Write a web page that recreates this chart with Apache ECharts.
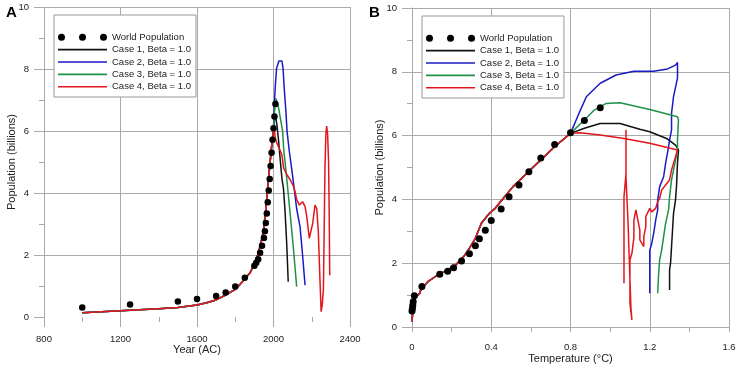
<!DOCTYPE html>
<html>
<head>
<meta charset="utf-8">
<script src="https://cdn.jsdelivr.net/npm/echarts@6/dist/echarts.min.js"></script>
<style>
  html, body { margin: 0; padding: 0; background: #fff; }
  #chart { width: 737px; height: 367px; }
</style>
</head>
<body>
<div id="chart"></div>
<script>
// world population (billions), shared by both panels
const popYears = [1000, 1250, 1500, 1600, 1700, 1750, 1800, 1850, 1900, 1910, 1920, 1930, 1940,
    1950, 1955, 1960, 1965, 1970, 1975, 1980, 1985, 1990, 1995, 2000, 2005, 2010];
const popTemps = [-0.004, -0.002, 0, 0.002, 0.004, 0.006, 0.012, 0.05, 0.14, 0.18, 0.21, 0.25, 0.29,
    0.32, 0.34, 0.37, 0.40, 0.45, 0.49, 0.54, 0.59, 0.65, 0.72, 0.80, 0.87, 0.95];
const worldPop = [0.31, 0.4, 0.5, 0.58, 0.68, 0.79, 0.98, 1.27, 1.65, 1.75, 1.86, 2.07, 2.3,
    2.55, 2.77, 3.03, 3.34, 3.7, 4.08, 4.45, 4.87, 5.3, 5.72, 6.09, 6.47, 6.87];

const caseNames = ['Case 1, Beta = 1.0', 'Case 2, Beta = 1.0', 'Case 3, Beta = 1.0', 'Case 4, Beta = 1.0'];
const caseColors = ['#111111', '#1b1bc4', '#1f9148', '#e3161c'];

// panel A: population vs year
const histYear = [[1000, 0.14], [1100, 0.17], [1200, 0.2], [1300, 0.23], [1400, 0.27], [1500, 0.31],
    [1600, 0.39], [1650, 0.46], [1700, 0.55], [1750, 0.71], [1800, 0.89], [1850, 1.22], [1880, 1.45],
    [1900, 1.73], [1920, 2.05], [1940, 2.54], [1950, 2.91], [1960, 3.5], [1970, 4.2], [1980, 4.85],
    [1990, 5.49], [2000, 6.09]];
const tailYear1 = [[2005, 6.35], [2010, 6.52], [2018, 6.19], [2027, 5.66], [2036, 5.01], [2044, 4.47],
    [2052, 4.15], [2060, 3.45], [2069, 2.38], [2077, 1.14]];
const tailYear2 = [[2004, 6.84], [2010, 7.5], [2016, 8.02], [2028, 8.26], [2044, 8.26], [2050, 8.02],
    [2056, 7.38], [2065, 6.62], [2071, 5.98], [2083, 5.33], [2097, 4.69], [2109, 4.1], [2121, 3.5],
    [2139, 2.9], [2152, 2.0], [2165, 1.03]];
const tailYear3 = [[2005, 6.6], [2013, 7.05], [2027, 6.73], [2039, 6.3], [2048, 5.98], [2053, 5.44],
    [2062, 4.9], [2071, 4.36], [2086, 3.4], [2103, 2.3], [2121, 0.98]];
const tailYear4 = [[2005, 6.0], [2010, 5.76], [2018, 5.6], [2030, 5.44], [2044, 5.23], [2053, 4.8],
    [2071, 4.58], [2088, 4.42], [2106, 4.2], [2114, 4.0], [2121, 3.8], [2135, 3.61], [2152, 3.72],
    [2165, 3.56], [2174, 3.24], [2187, 2.54], [2196, 2.6], [2205, 3.02], [2217, 3.61], [2226, 3.5],
    [2234, 2.8], [2243, 1.19], [2249, 0.17], [2255, 0.4], [2261, 0.9], [2265, 2.8], [2269, 4.8],
    [2274, 5.9], [2278, 6.16], [2283, 5.9], [2288, 5.0], [2291, 3.5], [2294, 1.35]];

// panel B: population vs temperature
const histTemp = [[0, 0.17], [0.005, 0.6], [0.012, 0.85], [0.02, 0.95], [0.04, 1.06], [0.044, 1.16],
    [0.057, 1.26], [0.08, 1.42], [0.13, 1.63], [0.18, 1.79], [0.22, 1.94], [0.26, 2.2], [0.29, 2.47],
    [0.32, 2.78], [0.35, 3.25], [0.39, 3.56], [0.42, 3.72], [0.46, 4.03], [0.51, 4.4], [0.58, 4.82],
    [0.65, 5.24], [0.72, 5.65], [0.8, 6.07]];
const tailTemp1 = [[0.87, 6.23], [0.95, 6.38], [1.05, 6.38], [1.15, 6.2], [1.2, 6.12], [1.285, 5.91],
    [1.33, 5.7], [1.345, 5.55], [1.34, 5.13], [1.335, 4.4], [1.33, 3.98], [1.32, 3.56], [1.315, 3.04],
    [1.31, 2.52], [1.305, 2.0], [1.30, 1.79], [1.30, 1.16]];
const tailTemp2 = [[0.85, 6.8], [0.88, 7.22], [0.95, 7.64], [1.03, 7.9], [1.12, 8.02], [1.22, 8.02],
    [1.29, 8.09], [1.33, 8.21], [1.34, 8.29], [1.34, 7.8], [1.32, 7.22], [1.31, 6.7], [1.31, 6.18],
    [1.30, 5.86], [1.295, 5.65], [1.28, 5.13], [1.27, 4.71], [1.25, 4.4], [1.24, 3.98], [1.24, 3.67],
    [1.23, 3.35], [1.22, 2.94], [1.21, 2.62], [1.2, 2.41], [1.2, 1.06]];
const tailTemp3 = [[0.87, 6.49], [0.92, 6.8], [0.98, 7.01], [1.05, 7.03], [1.2, 6.82], [1.34, 6.59],
    [1.345, 6.5], [1.34, 5.86], [1.34, 5.55], [1.33, 5.23], [1.31, 4.61], [1.30, 4.08], [1.295, 3.67],
    [1.28, 3.25], [1.27, 2.83], [1.26, 2.41], [1.25, 2.1], [1.245, 1.68], [1.24, 1.06]];
const tailTemp4 = [[0.85, 6.09], [0.95, 6.02], [1.07, 5.91], [1.2, 5.76], [1.34, 5.55], [1.33, 5.34],
    [1.31, 4.92], [1.30, 4.61], [1.28, 4.45], [1.26, 4.29], [1.25, 4.03], [1.24, 3.93], [1.23, 3.72],
    [1.21, 3.61], [1.20, 3.6], [1.20, 3.72], [1.18, 3.46], [1.18, 3.14], [1.17, 2.83], [1.17, 2.52],
    [1.165, 2.52], [1.15, 2.73], [1.15, 3.04], [1.14, 3.35], [1.13, 3.67], [1.12, 3.35], [1.12, 2.8],
    [1.11, 2.31], [1.10, 2.1], [1.10, 0.74], [1.11, 0.22], [1.105, 0.6], [1.09, 3.35], [1.08, 4.71],
    [1.08, 6.18], [1.08, 4.8], [1.07, 4.08], [1.07, 1.37]];

const FONT = '"Liberation Sans", Arial, sans-serif';
const GRID_COLOR = '#a9a9a9';
const dotsIcon = 'path://M0,3.5a3.5,3.5 0 1,0 7,0a3.5,3.5 0 1,0 -7,0Z' +
    'M21,3.5a3.5,3.5 0 1,0 7,0a3.5,3.5 0 1,0 -7,0Z' +
    'M42,3.5a3.5,3.5 0 1,0 7,0a3.5,3.5 0 1,0 -7,0Z';
const lineIcon = 'path://M0,0L49,0L49,1.6L0,1.6Z';

function make_axis(min, max, interval, name, nameGap, labelMargin, tickLen, showLine, isY) {
    return {
        type: 'value', min: min, max: max, interval: interval,
        name: name, nameLocation: 'middle', nameGap: nameGap, nameMoveOverlap: false,
        nameTextStyle: { fontFamily: FONT, fontSize: 11, color: '#222' },
        axisLine: { show: showLine, onZero: false, lineStyle: { color: GRID_COLOR } },
        axisTick: { show: true, length: tickLen, lineStyle: { color: GRID_COLOR } },
        minorTick: { show: true, splitNumber: 2, length: 5, lineStyle: { color: GRID_COLOR } },
        axisLabel: {
            fontFamily: FONT, fontSize: 9.5, color: '#222', margin: labelMargin,
            formatter: v => String(Math.round(v * 10) / 10)
        },
        splitLine: { show: true, showMinLine: isY ? showLine : true, lineStyle: { color: GRID_COLOR, width: 1 } }
    };
}

function make_legend(left, top) {
    return {
        orient: 'vertical', left: left, top: top,
        padding: [16, 5, 4, 4], itemGap: 0, itemWidth: 49, itemHeight: 7,
        borderColor: '#999', borderWidth: 1, backgroundColor: '#fff',
        selectedMode: false,
        textStyle: { fontFamily: FONT, fontSize: 9.5, color: '#222', lineHeight: 12.4 },
        data: [{ name: 'World Population', icon: dotsIcon }]
            .concat(caseNames.map(n => ({ name: n, icon: lineIcon })))
    };
}

function line_series(name, color, data, axisIdx) {
    return {
        name: name, type: 'line', data: data, xAxisIndex: axisIdx, yAxisIndex: axisIdx,
        symbol: 'none', lineStyle: { color: color, width: 1.5 }, itemStyle: { color: color },
        z: 2, animation: false
    };
}

const chart = echarts.init(document.getElementById('chart'));
const tailsYear = [tailYear1, tailYear2, tailYear3, tailYear4];
const tailsTemp = [tailTemp1, tailTemp2, tailTemp3, tailTemp4];

const series = [];
caseNames.forEach((n, i) => series.push(line_series(n, caseColors[i], histYear.concat(tailsYear[i]), 0)));
caseNames.forEach((n, i) => series.push(line_series(n, caseColors[i], histTemp.concat(tailsTemp[i]), 1)));
series.push({
    name: 'World Population', type: 'scatter', xAxisIndex: 0, yAxisIndex: 0,
    data: popYears.map((y, i) => [y, worldPop[i]]),
    symbolSize: 6.5, itemStyle: { color: '#000', opacity: 1 }, z: 5, animation: false
});
series.push({
    name: 'World Population', type: 'scatter', xAxisIndex: 1, yAxisIndex: 1,
    data: popTemps.map((t, i) => [t, worldPop[i]]),
    symbolSize: 7, itemStyle: { color: '#000', opacity: 1 }, z: 5, animation: false
});

chart.setOption({
    backgroundColor: '#fff',
    animation: false,
    grid: [
        { left: 44, top: 7, width: 306, height: 310, containLabel: false, outerBoundsMode: 'none' },
        { left: 412, top: 8, width: 317, height: 319, containLabel: false, outerBoundsMode: 'none' }
    ],
    xAxis: [
        Object.assign(make_axis(800, 2400, 400, 'Year (AC)', 27, 17, 10, false, false), { gridIndex: 0 }),
        Object.assign(make_axis(0, 1.6, 0.4, 'Temperature (°C)', 26, 15, 5, true, false), { gridIndex: 1 })
    ],
    yAxis: [
        Object.assign(make_axis(0, 10, 2, 'Population (billions)', 27, 15, 10, false, true), { gridIndex: 0 }),
        Object.assign(make_axis(0, 10, 2, 'Population (billions)', 27, 15, 10, true, true), { gridIndex: 1 })
    ],
    legend: [make_legend(54, 15), make_legend(422, 16)],
    graphic: [
        { type: 'text', left: 6, top: 5, style: { text: 'A', fontFamily: FONT, fontSize: 15, fontWeight: 'bold', fill: '#000' } },
        { type: 'text', left: 369, top: 5, style: { text: 'B', fontFamily: FONT, fontSize: 15, fontWeight: 'bold', fill: '#000' } }
    ],
    series: series
});
</script>
</body>
</html>
